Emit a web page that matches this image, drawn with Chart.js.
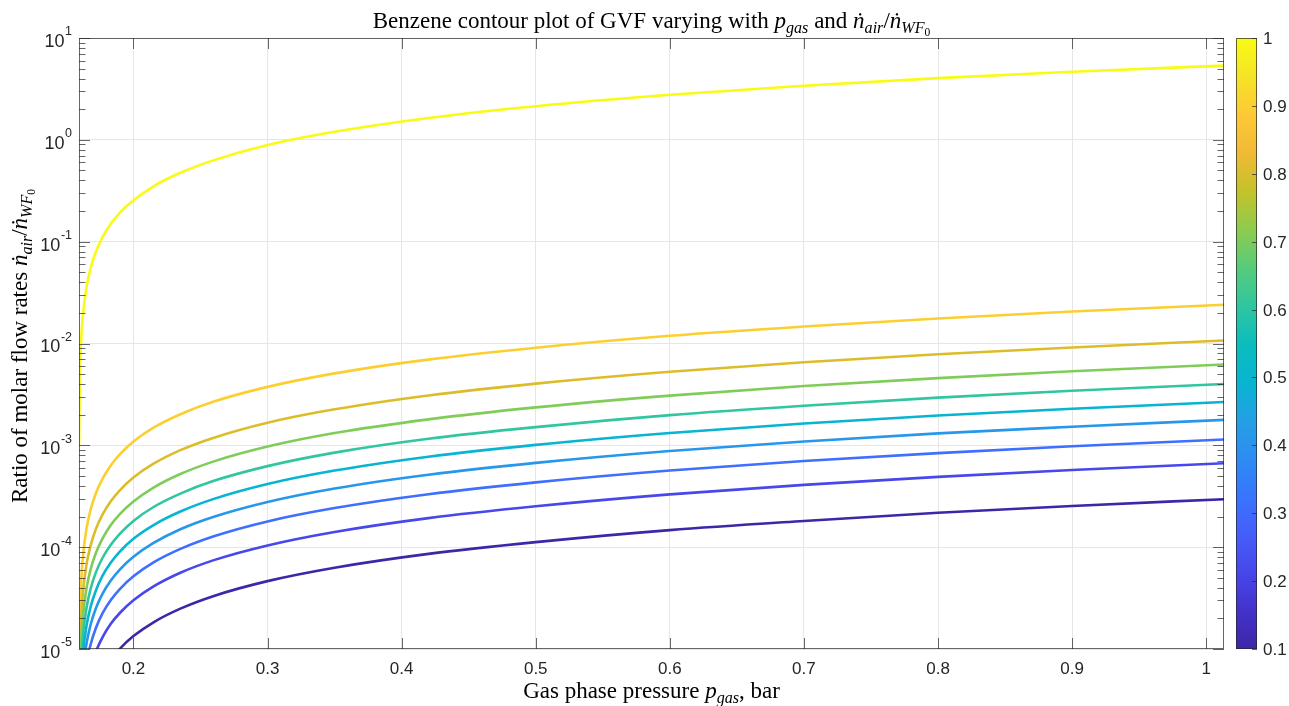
<!DOCTYPE html>
<html>
<head>
<meta charset="utf-8">
<script src="https://cdn.jsdelivr.net/npm/chart.js@4.4.1/dist/chart.umd.min.js"></script>
<style>
  html, body { margin: 0; padding: 0; background: #fff; }
  #wrap { width: 1289px; height: 706px; }
</style>
</head>
<body>
<div id="wrap"><canvas id="c" width="1289" height="706"></canvas></div>
<script>
// gas pressure samples (bar)
const pGas = [0.1595, 0.1600, 0.1610, 0.1625, 0.1650, 0.1680, 0.1720, 0.1770, 0.1830, 0.1900,
  0.2000, 0.2150, 0.2350, 0.2600, 0.3000, 0.3500, 0.4200, 0.5000, 0.6000, 0.7000, 0.8000, 0.9000, 1.0133];

// GVF contour levels and the molar ratio along each one
const levels = [0.1, 0.2, 0.3, 0.4, 0.5, 0.6, 0.7, 0.8, 0.9, 1.0];
const gvf01 = [6.6e-8, 2.28e-7, 5.6e-7, 1.05e-6, 1.88e-6, 2.87e-6, 4.18e-6, 5.83e-6, 7.80e-6, 1.01e-5,
  1.34e-5, 1.83e-5, 2.49e-5, 3.32e-5, 4.64e-5, 6.28e-5, 8.59e-5, 1.12e-4, 1.47e-4, 1.81e-4, 2.18e-4, 2.54e-4, 2.96e-4];
const gvf02 = [1.48e-7, 5.20e-7, 1.26e-6, 2.38e-6, 4.23e-6, 6.44e-6, 9.41e-6, 1.31e-5, 1.76e-5, 2.27e-5,
  3.01e-5, 4.12e-5, 5.61e-5, 7.46e-5, 1.04e-4, 1.41e-4, 1.93e-4, 2.52e-4, 3.30e-4, 4.09e-4, 4.90e-4, 5.72e-4, 6.66e-4];
const gvf03 = [2.54e-7, 8.90e-7, 2.16e-6, 4.07e-6, 7.24e-6, 1.10e-5, 1.61e-5, 2.25e-5, 3.01e-5, 3.90e-5,
  5.17e-5, 7.08e-5, 9.61e-5, 1.28e-4, 1.79e-4, 2.42e-4, 3.31e-4, 4.33e-4, 5.66e-4, 7.01e-4, 8.39e-4, 9.80e-4, 1.14e-3];
const gvf04 = [3.95e-7, 1.39e-6, 3.35e-6, 6.32e-6, 1.13e-5, 1.72e-5, 2.51e-5, 3.50e-5, 4.68e-5, 6.06e-5,
  8.04e-5, 1.10e-4, 1.50e-4, 1.99e-4, 2.78e-4, 3.77e-4, 5.15e-4, 6.73e-4, 8.80e-4, 1.09e-3, 1.31e-3, 1.52e-3, 1.78e-3];
const gvf05 = [5.93e-7, 2.08e-6, 5.04e-6, 9.48e-6, 1.69e-5, 2.58e-5, 3.76e-5, 5.25e-5, 7.02e-5, 9.10e-5,
  1.21e-4, 1.65e-4, 2.24e-4, 2.98e-4, 4.17e-4, 5.65e-4, 7.73e-4, 1.01e-3, 1.32e-3, 1.64e-3, 1.96e-3, 2.29e-3, 2.66e-3];
const gvf06 = [8.89e-7, 3.12e-6, 7.55e-6, 1.42e-5, 2.53e-5, 3.87e-5, 5.65e-5, 7.87e-5, 1.05e-4, 1.36e-4,
  1.81e-4, 2.48e-4, 3.36e-4, 4.48e-4, 6.25e-4, 8.48e-4, 1.16e-3, 1.51e-3, 1.98e-3, 2.45e-3, 2.94e-3, 3.43e-3, 4.00e-3];
const gvf07 = [1.39e-6, 4.85e-6, 1.18e-5, 2.21e-5, 3.94e-5, 6.02e-5, 8.78e-5, 1.22e-4, 1.64e-4, 2.12e-4,
  2.81e-4, 3.85e-4, 5.23e-4, 6.96e-4, 9.73e-4, 1.32e-3, 1.80e-3, 2.36e-3, 3.08e-3, 3.82e-3, 4.57e-3, 5.34e-3, 6.22e-3];
const gvf08 = [2.37e-6, 8.31e-6, 2.01e-5, 3.79e-5, 6.76e-5, 1.03e-4, 1.51e-4, 2.10e-4, 2.81e-4, 3.64e-4,
  4.83e-4, 6.60e-4, 8.97e-4, 1.19e-3, 1.67e-3, 2.26e-3, 3.09e-3, 4.04e-3, 5.28e-3, 6.54e-3, 7.84e-3, 9.15e-3, 1.07e-2];
const gvf09 = [5.33e-6, 1.87e-5, 4.53e-5, 8.53e-5, 1.52e-4, 2.32e-4, 3.39e-4, 4.72e-4, 6.32e-4, 8.19e-4,
  1.09e-3, 1.49e-3, 2.02e-3, 2.69e-3, 3.75e-3, 5.09e-3, 6.95e-3, 9.09e-3, 1.19e-2, 1.47e-2, 1.76e-2, 2.06e-2, 2.40e-2];
const gvf10 = [1.0e-3, 4.4e-3, 1.07e-2, 2.0e-2, 3.58e-2, 5.46e-2, 7.97e-2, 0.111, 0.149, 0.193,
  0.255, 0.350, 0.475, 0.632, 0.89, 1.20, 1.64, 2.14, 2.77, 3.40, 4.04, 4.66, 5.36];
const series = [gvf01, gvf02, gvf03, gvf04, gvf05, gvf06, gvf07, gvf08, gvf09, gvf10];

// tick labels
const xTicks = [0.2, 0.3, 0.4, 0.5, 0.6, 0.7, 0.8, 0.9, 1.0];
const xTickLabels = ['0.2', '0.3', '0.4', '0.5', '0.6', '0.7', '0.8', '0.9', '1'];
const yTicks = [1e-5, 1e-4, 1e-3, 1e-2, 1e-1, 1, 10];
const yTickExps = ['-5', '-4', '-3', '-2', '-1', '0', '1'];
const cbTicks = [0.1, 0.2, 0.3, 0.4, 0.5, 0.6, 0.7, 0.8, 0.9, 1];
const cbTickLabels = ['0.1', '0.2', '0.3', '0.4', '0.5', '0.6', '0.7', '0.8', '0.9', '1'];

// parula (MATLAB default colormap), every ~4th entry
const parula = [
  [0.2422,0.1504,0.6603],[0.2647,0.1978,0.7952],[0.2803,0.2782,0.9221],[0.2760,0.3667,0.9829],
  [0.2206,0.4603,0.9973],[0.1764,0.5499,0.9520],[0.1380,0.6276,0.8973],[0.0297,0.7082,0.8163],
  [0.0433,0.7411,0.7394],[0.1938,0.7758,0.6251],[0.3406,0.8008,0.4789],[0.5616,0.7942,0.3045],
  [0.7738,0.7598,0.1646],[0.9393,0.7288,0.2100],[0.9952,0.7893,0.2028],[0.9610,0.8890,0.1537],
  [0.9769,0.9839,0.0805]];
const lineColors = ['#3e26a8', '#4747eb', '#3e6fff', '#2797eb', '#08b5d0',
  '#31c69f', '#80cc59', '#dcbd29', '#fccf30', '#f9fb14'];

const serif = '"Liberation Serif", "DejaVu Serif", serif';
const sans = '"Liberation Sans", Arial, sans-serif';
const ink = '#262626';

function segFont(s, size) {
  const k = s.lvl === 2 ? 0.5 : s.lvl === 1 ? 0.7 : 1;
  return (s.it ? 'italic ' : '') + (size * k).toFixed(1) + 'px ' + serif;
}
function segDy(s, size) {
  return s.lvl === 1 ? size * 0.22 : s.lvl === 2 ? size * 0.36 : 0;
}
function drawRich(ctx, segs, cx, y, size) {
  let w = 0;
  segs.forEach(s => { ctx.font = segFont(s, size); s.w = ctx.measureText(s.t).width; w += s.w; });
  let x = cx - w / 2;
  ctx.textAlign = 'left';
  ctx.textBaseline = 'alphabetic';
  segs.forEach(s => { ctx.font = segFont(s, size); ctx.fillText(s.t, x, y + segDy(s, size)); x += s.w; });
}

const titleSegs = [{t: 'Benzene contour plot of GVF varying with '}, {t: 'p', it: 1}, {t: 'gas', it: 1, lvl: 1},
  {t: ' and '}, {t: 'ṅ', it: 1}, {t: 'air', it: 1, lvl: 1}, {t: '/'}, {t: 'ṅ', it: 1}, {t: 'WF', it: 1, lvl: 1}, {t: '0', lvl: 2}];
const xLabelSegs = [{t: 'Gas phase pressure '}, {t: 'p', it: 1}, {t: 'gas', it: 1, lvl: 1}, {t: ', bar'}];
const yLabelSegs = [{t: 'Ratio of molar flow rates '}, {t: 'ṅ', it: 1}, {t: 'air', it: 1, lvl: 1}, {t: '/'},
  {t: 'ṅ', it: 1}, {t: 'WF', it: 1, lvl: 1}, {t: '0', lvl: 2}];

const decor = {
  id: 'decor',
  afterDraw(chart) {
    const ctx = chart.ctx;
    const a = chart.chartArea;
    const xs = chart.scales.x, ys = chart.scales.y;
    ctx.save();
    ctx.strokeStyle = ink;
    ctx.lineWidth = 1;
    ctx.globalAlpha = 0.7;
    // box
    ctx.strokeRect(Math.round(a.left) + 0.5, Math.round(a.top) + 0.5,
      Math.round(a.right - a.left) - 1, Math.round(a.bottom - a.top) - 1);
    ctx.beginPath();
    // x ticks, bottom and top
    xTicks.forEach(v => {
      const px = Math.round(xs.getPixelForValue(v)) + 0.5;
      ctx.moveTo(px, a.bottom); ctx.lineTo(px, a.bottom - 11);
      ctx.moveTo(px, a.top); ctx.lineTo(px, a.top + 11);
    });
    // y ticks, major + minor, left and right
    yTicks.forEach((v, i) => {
      for (let m = 1; m <= 9; m++) {
        if (m > 1 && i === yTicks.length - 1) break;
        const py = Math.round(ys.getPixelForValue(v * m)) + 0.5;
        const len = m === 1 ? 11 : 6.5;
        ctx.moveTo(a.left, py); ctx.lineTo(a.left + len, py);
        ctx.moveTo(a.right, py); ctx.lineTo(a.right - len, py);
      }
    });
    ctx.stroke();
    ctx.globalAlpha = 1;

    // tick labels
    ctx.fillStyle = ink;
    ctx.font = '17px ' + sans;
    ctx.textAlign = 'center';
    ctx.textBaseline = 'middle';
    xTicks.forEach((v, i) => ctx.fillText(xTickLabels[i], xs.getPixelForValue(v), 669));
    yTicks.forEach((v, i) => {
      const py = ys.getPixelForValue(v);
      ctx.font = '12.5px ' + sans;
      const we = ctx.measureText(yTickExps[i]).width;
      ctx.textAlign = 'left';
      ctx.fillText(yTickExps[i], 72 - we, py - 6);
      ctx.font = '18px ' + sans;
      ctx.textAlign = 'right';
      ctx.fillText('10', 72 - we - 0.5, py + 4);
    });

    // colorbar
    const cbL = 1236, cbR = 1257, cbT = a.top, cbB = a.bottom;
    const g = ctx.createLinearGradient(0, cbB, 0, cbT);
    parula.forEach((c, i) => g.addColorStop(i / (parula.length - 1),
      'rgb(' + c.map(u => Math.round(u * 255)).join(',') + ')'));
    ctx.fillStyle = g;
    ctx.fillRect(cbL, cbT, cbR - cbL, cbB - cbT);
    ctx.globalAlpha = 0.7;
    ctx.strokeRect(cbL + 0.5, cbT + 0.5, cbR - cbL - 1, cbB - cbT - 1);
    ctx.beginPath();
    ctx.fillStyle = ink;
    ctx.font = '17px ' + sans;
    ctx.textAlign = 'left';
    ctx.textBaseline = 'middle';
    cbTicks.forEach((v, i) => {
      const py = Math.round(cbB - (v - 0.1) / 0.9 * (cbB - cbT)) + 0.5;
      ctx.moveTo(cbR, py); ctx.lineTo(cbR - 5, py);
      ctx.globalAlpha = 1;
      ctx.fillText(cbTickLabels[i], 1263, py + 1);
    });
    ctx.globalAlpha = 0.7;
    ctx.stroke();
    ctx.globalAlpha = 1;

    // title and axis labels
    ctx.fillStyle = '#000';
    drawRich(ctx, titleSegs, (a.left + a.right) / 2, 28, 23);
    drawRich(ctx, xLabelSegs, (a.left + a.right) / 2, 698, 23);
    ctx.translate(27, 346);
    ctx.rotate(-Math.PI / 2);
    drawRich(ctx, yLabelSegs, 0, 0, 23);
    ctx.restore();
  }
};

new Chart(document.getElementById('c'), {
  type: 'line',
  data: {
    datasets: series.map((vals, i) => ({
      label: 'GVF ' + levels[i],
      data: vals.map((v, j) => ({x: pGas[j], y: v})),
      borderColor: lineColors[i],
      borderWidth: 2.6,
      pointRadius: 0,
      fill: false,
      cubicInterpolationMode: 'monotone'
    }))
  },
  options: {
    responsive: false,
    devicePixelRatio: 1,
    animation: false,
    layout: { padding: { left: 79, right: 65, top: 38, bottom: 57 } },
    plugins: { legend: { display: false }, tooltip: { enabled: false }, title: { display: false } },
    scales: {
      x: {
        type: 'linear', min: 0.1594, max: 1.01325,
        afterBuildTicks: s => { s.ticks = xTicks.map(v => ({value: v})); },
        afterFit: s => { s.height = 0; },
        ticks: { display: false },
        grid: { color: '#e6e6e6', drawTicks: false },
        border: { display: false }
      },
      y: {
        type: 'logarithmic', min: 1e-5, max: 10,
        afterBuildTicks: s => { s.ticks = yTicks.map(v => ({value: v})); },
        afterFit: s => { s.width = 0; },
        ticks: { display: false },
        grid: { color: '#e6e6e6', drawTicks: false },
        border: { display: false }
      }
    }
  },
  plugins: [decor]
});
</script>
</body>
</html>
